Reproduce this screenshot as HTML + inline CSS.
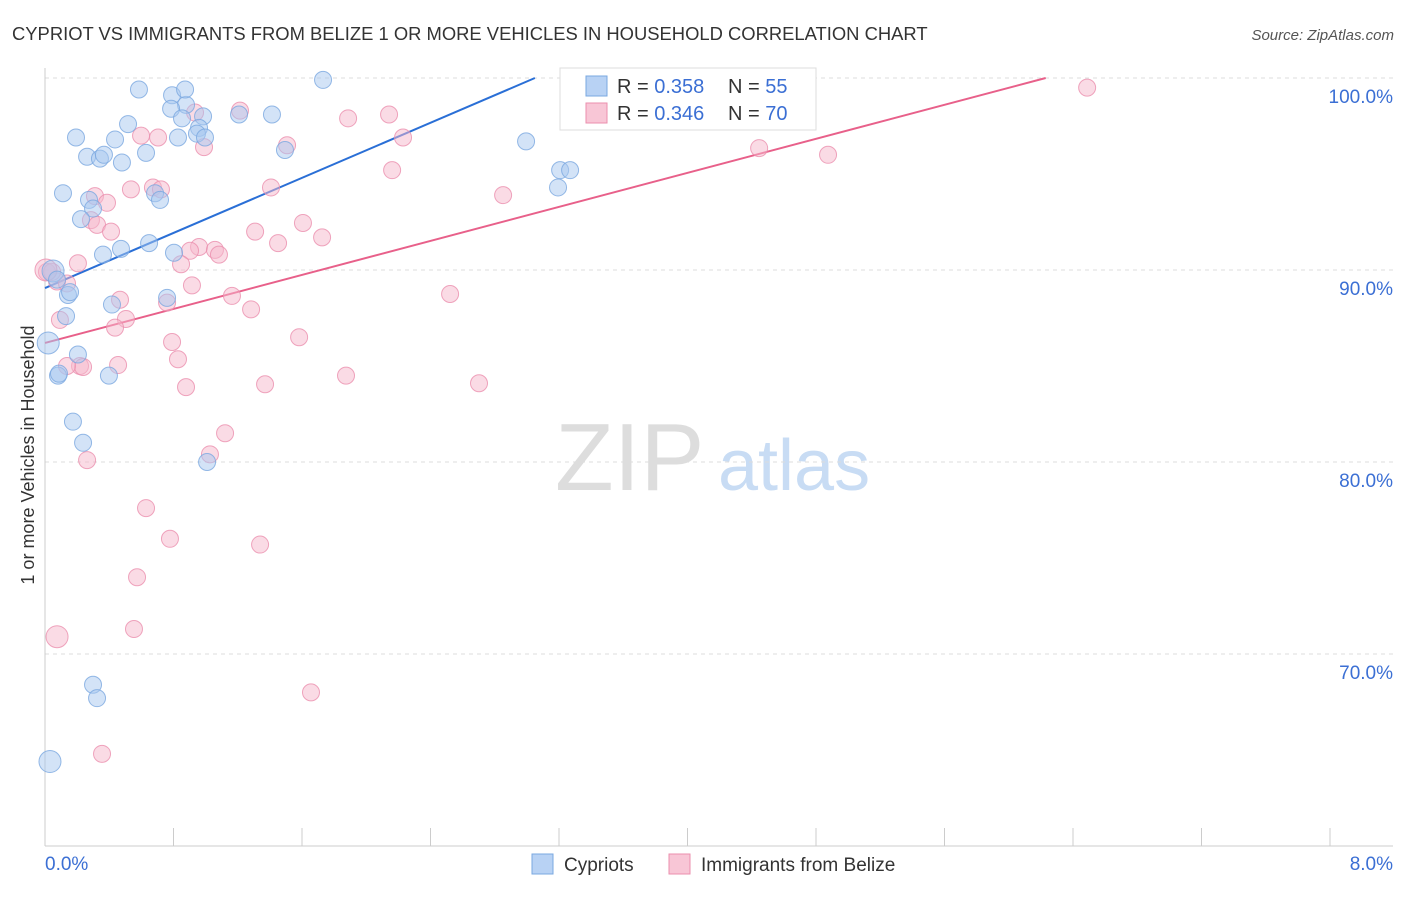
<!DOCTYPE html>
<html><head><meta charset="utf-8">
<style>
body{margin:0;background:#fff;font-family:"Liberation Sans",sans-serif;}
svg text{font-family:"Liberation Sans",sans-serif;}
</style></head>
<body>
<svg id="chart" width="1406" height="892" viewBox="0 0 1406 892" xmlns="http://www.w3.org/2000/svg">
<text x="12" y="40" font-size="18.4" fill="#333">CYPRIOT VS IMMIGRANTS FROM BELIZE 1 OR MORE VEHICLES IN HOUSEHOLD CORRELATION CHART</text>
<text x="1394" y="40" font-size="15" fill="#555" text-anchor="end" font-style="italic">Source: ZipAtlas.com</text>
<g>
<text x="555" y="490" font-size="96" fill="#ddd" font-family="Liberation Serif, serif">ZIP</text>
<text x="718" y="490" font-size="72" fill="#c8dcf4">atlas</text>
</g>
<g id="grid"></g>
<g id="axes"></g>
<g id="lines"></g>
<g id="points"></g>
<text transform="translate(34,455) rotate(-90)" font-size="18" fill="#333" text-anchor="middle">1 or more Vehicles in Household</text>
<g>
<rect x="560" y="68" width="256" height="62" fill="#fff" stroke="#ddd"/>
<rect x="586" y="76" width="21" height="20" fill="#b8d2f4" stroke="#7aa8e0"/>
<text x="617" y="93" font-size="20" fill="#333">R = <tspan fill="#3b6fd4">0.358</tspan></text>
<text x="728" y="93" font-size="20" fill="#333">N = <tspan fill="#3b6fd4">55</tspan></text>
<rect x="586" y="103" width="21" height="20" fill="#f8c6d6" stroke="#eb8fae"/>
<text x="617" y="120" font-size="20" fill="#333">R = <tspan fill="#3b6fd4">0.346</tspan></text>
<text x="728" y="120" font-size="20" fill="#333">N = <tspan fill="#3b6fd4">70</tspan></text>
</g>
<g>
<rect x="532" y="854" width="21" height="20" fill="#b8d2f4" stroke="#7aa8e0"/>
<text x="564" y="871" font-size="19" fill="#333">Cypriots</text>
<rect x="669" y="854" width="21" height="20" fill="#f8c6d6" stroke="#eb8fae"/>
<text x="701" y="871" font-size="19" fill="#333">Immigrants from Belize</text>
</g>
</svg>
<script>
const yTicks=[100,90,80,70];
const yTickLabels=["100.0%","90.0%","80.0%","70.0%"];
const xTicks=[0,0.8,1.6,2.4,3.2,4.0,4.8,5.6,6.4,7.2,8.0];
const blueX=[0.585,0.878,0.791,0.872,0.785,1.731,1.208,1.413,0.853,0.984,0.959,0.828,0.946,0.996,0.517,0.193,0.436,0.262,0.342,0.367,0.479,0.629,1.494,2.995,3.207,3.269,3.194,0.112,0.685,0.716,0.274,0.299,0.224,0.473,0.361,0.648,0.803,0.05,0.075,0.143,0.156,0.417,0.76,0.131,0.02,0.205,0.081,0.087,0.398,0.174,0.237,1.009,0.299,0.324,0.031];
const blueY=[99.4,98.6,99.1,99.4,98.4,99.9,98.1,98.1,97.9,98.0,97.4,96.9,97.1,96.9,97.6,96.9,96.8,95.9,95.8,96.0,95.6,96.1,96.25,96.7,95.2,95.2,94.3,94.0,94.0,93.65,93.65,93.2,92.65,91.1,90.8,91.4,90.9,89.95,89.5,88.7,88.85,88.2,88.55,87.6,86.2,85.6,84.5,84.6,84.5,82.1,81.0,80.0,68.4,67.7,64.4];
const blueBig=[44,54,37];
const pinkX=[6.488,4.689,1.214,0.934,1.887,2.142,2.229,1.507,0.99,0.598,0.704,4.446,4.875,2.161,0.535,0.672,0.722,0.311,0.386,1.407,2.852,0.286,0.324,0.411,1.308,1.606,1.725,0.959,1.058,1.451,0.903,1.083,0.847,0.205,0.012,0.075,0.137,0.915,1.164,0.467,2.522,1.283,0.76,0.093,0.504,0.436,0.791,1.582,0.828,0.455,0.218,0.237,0.878,1.37,1.874,2.702,1.121,1.027,0.262,0.629,0.778,1.339,0.573,0.554,0.075,1.656,0.355,0.044,0.006,0.137];
const pinkY=[99.5,99.9,98.3,98.2,97.9,98.1,96.9,96.5,96.4,97.0,96.9,96.35,96.0,95.2,94.2,94.3,94.2,93.85,93.5,94.3,93.9,92.6,92.35,92.0,92.0,92.45,91.7,91.2,91.05,91.4,91.0,90.8,90.3,90.35,89.9,89.4,89.3,89.2,88.65,88.45,88.75,87.95,88.3,87.4,87.45,87.0,86.25,86.5,85.35,85.05,85.0,84.95,83.9,84.05,84.5,84.1,81.5,80.4,80.1,77.6,76.0,75.7,74.0,71.3,70.9,68.0,64.8,89.9,90.0,85.0];
const pinkBig=[64,68];
const blueLine=[[0,89.06],[3.05,100]];
const pinkLine=[[0,86.2],[6.23,100]];
const NS="http://www.w3.org/2000/svg";
const X=v=>45+v*160.625;
const Y=v=>78+(100-v)*19.2;
function mk(tag,attrs,parent){const e=document.createElementNS(NS,tag);for(const k in attrs)e.setAttribute(k,attrs[k]);parent.appendChild(e);return e;}
const grid=document.getElementById('grid'),axes=document.getElementById('axes');
yTicks.forEach((t,i)=>{
 const g=mk('line',{x1:45,x2:1393,y1:Y(t),y2:Y(t),stroke:'#ddd','stroke-dasharray':'4,4'},grid);
 
 
 const tx=mk('text',{x:1393,y:Y(t)+25,'font-size':19,fill:'#3b6fd4','text-anchor':'end'},axes);
 tx.textContent=yTickLabels[i];
 
 
});
const xa=mk('line',{x1:45,x2:1393,y1:846,y2:846,stroke:'#ccc'},axes);


const ya=mk('line',{x1:45,x2:45,y1:68,y2:846,stroke:'#ccc'},axes);


xTicks.forEach(t=>{
 const l=mk('line',{x1:X(t),x2:X(t),y1:828,y2:846,stroke:'#ccc'},axes);
 
 
});
const xl0=mk('text',{x:45,y:870,'font-size':19,fill:'#3b6fd4'},axes);xl0.textContent='0.0%';


const xl1=mk('text',{x:1393,y:870,'font-size':19,fill:'#3b6fd4','text-anchor':'end'},axes);xl1.textContent='8.0%';


const pts=document.getElementById('points');
function series(xs,ys,big,fill,stroke,name){
 xs.forEach((x,i)=>{
  const r=big.includes(i)?11:8.5;
  const c=mk('circle',{cx:X(x),cy:Y(ys[i]),r:r,fill:fill,'fill-opacity':0.5,stroke:stroke,'stroke-opacity':0.8,'stroke-width':1},pts);
  
  
 });
}
series(pinkX,pinkY,pinkBig,'#f5b8cc','#eb8fae','belize-point');
series(blueX,blueY,blueBig,'#a8c8f0','#7aa8e0','cypriot-point');
const lines=document.getElementById('lines');
const bl=mk('line',{x1:X(blueLine[0][0]),y1:Y(blueLine[0][1]),x2:X(blueLine[1][0]),y2:Y(blueLine[1][1]),stroke:'#2a6fd6','stroke-width':2},lines);


const pl=mk('line',{x1:X(pinkLine[0][0]),y1:Y(pinkLine[0][1]),x2:X(pinkLine[1][0]),y2:Y(pinkLine[1][1]),stroke:'#e8608a','stroke-width':2},lines);


</script>
</body></html>
